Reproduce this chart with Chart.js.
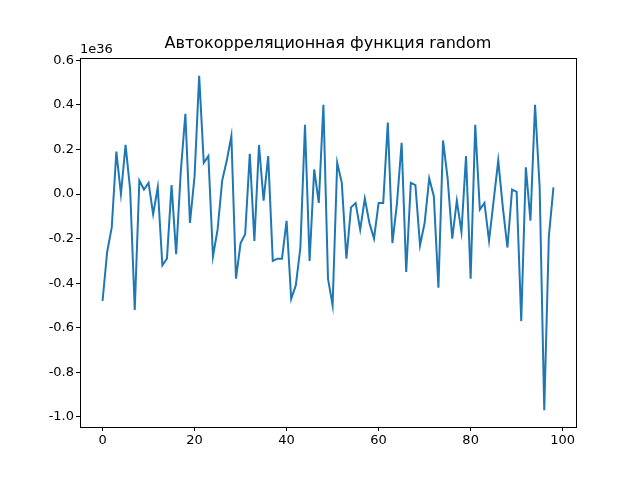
<!DOCTYPE html>
<html><head><meta charset="utf-8">
<script src="https://cdn.jsdelivr.net/npm/chart.js@4/dist/chart.umd.min.js"></script>
<style>html,body{margin:0;padding:0;background:#fff}</style>
</head><body>
<canvas id="c" width="640" height="480"></canvas>
<script>
const title = "Автокорреляционная функция random";
const scaleLabel = "1e36";
// values in units of 1e36
const values = [-0.48,-0.26,-0.15,0.19,0.00,0.22,0.02,-0.52,0.06,0.02,0.05,-0.09,0.03,-0.32,-0.29,0.04,-0.27,0.10,0.36,-0.13,0.08,0.53,0.14,0.17,-0.28,-0.16,0.06,0.15,0.26,-0.38,-0.22,-0.18,0.18,-0.21,0.22,-0.03,0.17,-0.30,-0.29,-0.29,-0.12,-0.47,-0.41,-0.24,0.31,-0.30,0.11,-0.04,0.40,-0.38,-0.50,0.14,0.05,-0.29,-0.06,-0.04,-0.16,-0.02,-0.13,-0.20,-0.04,-0.04,0.32,-0.22,-0.04,0.23,-0.35,0.05,0.04,-0.23,-0.13,0.07,-0.01,-0.42,0.24,0.07,-0.20,-0.03,-0.17,0.17,-0.38,0.31,-0.07,-0.04,-0.21,-0.03,0.15,-0.06,-0.24,0.02,0.01,-0.57,0.12,-0.12,0.40,0.03,-0.97,-0.19,0.03];
const lags = values.map((v,i)=>i);
const font = {family:"DejaVu Sans", size:13};
const deco = {id:'deco', afterDraw(ch){
  const {ctx, chartArea:a} = ch;
  ctx.save();
  ctx.strokeStyle='#000'; ctx.lineWidth=1;
  ctx.strokeRect(Math.round(a.left)+0.5, Math.round(a.top)+0.5, Math.round(a.right-a.left), Math.round(a.bottom-a.top));
  ctx.fillStyle='#000';
  ctx.font='16px "DejaVu Sans"'; ctx.textAlign='center'; ctx.textBaseline='bottom';
  ctx.fillText(title,(a.left+a.right)/2, a.top-6);
  ctx.font='13px "DejaVu Sans"'; ctx.textAlign='left';
  ctx.fillText(scaleLabel, a.left, a.top-2);
  ctx.restore();
}};
new Chart(document.getElementById('c'), {
  type:'line',
  data:{datasets:[{data:lags.map((x,i)=>({x, y:values[i]})), borderColor:'#1f77b4', borderWidth:2, pointRadius:0, tension:0, fill:false}]},
  options:{
    responsive:false, animation:false,
    layout:{padding:{top:58,right:64,left:0,bottom:0}},
    plugins:{legend:{display:false}, tooltip:{enabled:false}},
    scales:{
      x:{type:'linear', min:-4.9, max:102.9, afterFit(s){s.height=53;},
        afterBuildTicks(s){s.ticks=[0,20,40,60,80,100].map(v=>({value:v}));},
        ticks:{font, color:'#000', padding:2, maxRotation:0},
        grid:{drawOnChartArea:false, tickLength:4, color:'#000'}, border:{display:false}},
      y:{type:'linear', min:-1.045, max:0.61, afterFit(s){s.width=80;},
        afterBuildTicks(s){s.ticks=[-1.0,-0.8,-0.6,-0.4,-0.2,0,0.2,0.4,0.6].map(v=>({value:v}));},
        ticks:{font, color:'#000', padding:2, callback:v=>v.toFixed(1)},
        grid:{drawOnChartArea:false, tickLength:4, color:'#000'}, border:{display:false}}
    }
  },
  plugins:[deco]
});
</script>
</body></html>
